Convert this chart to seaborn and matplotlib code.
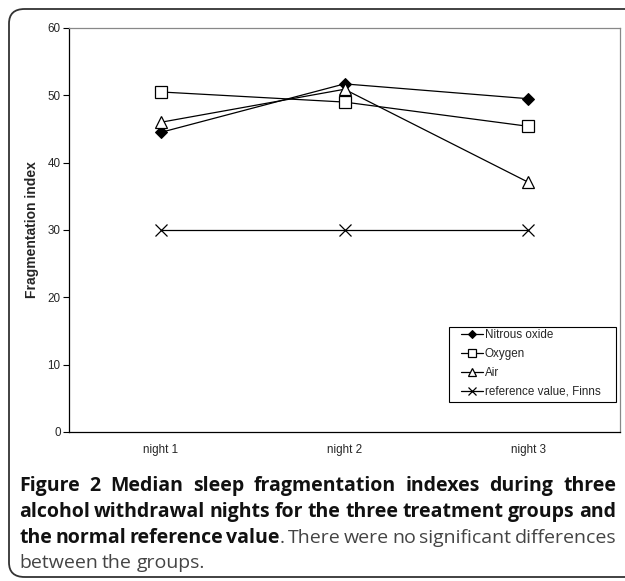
import pandas as pd
import matplotlib.pyplot as plt
import seaborn as sns
from matplotlib.patches import FancyBboxPatch, Rectangle

# Datos
noches = ["night 1", "night 2", "night 3"]
nitrous_oxide = [44.5, 51.7, 49.5]
oxygen = [50.5, 49.0, 45.4]
air = [46.0, 50.9, 37.1]
reference = [30.0, 30.0, 30.0]
series = ["Nitrous oxide", "Oxygen", "Air", "reference value, Finns"]

df = pd.DataFrame({
    "night": noches * 4,
    "value": nitrous_oxide + oxygen + air + reference,
    "group": sum([[s] * 3 for s in series], []),
})

sns.set_style("white")
plt.rcParams["font.family"] = ["Liberation Sans", "DejaVu Sans"]

fig = plt.figure(figsize=(6.25, 5.81), dpi=100)
ax = fig.add_axes([69 / 625, 149 / 581, 551 / 625, 404 / 581])

estilos = {
    "Nitrous oxide": dict(marker="D", markersize=6, mfc="black", mec="black"),
    "Oxygen": dict(marker="s", markersize=8, mfc="white", mec="black", mew=0.9),
    "Air": dict(marker="^", markersize=8, mfc="white", mec="black", mew=0.9),
    "reference value, Finns": dict(marker="x", markersize=8, mec="black", mew=0.9),
}
for s in series:
    sns.lineplot(data=df[df["group"] == s], x="night", y="value", ax=ax,
                 color="black", linewidth=0.9, label=s, **estilos[s])

ax.set_xlim(-0.5, 2.5)
ax.set_ylim(0, 60)
ax.set_yticks(range(0, 61, 10))
ax.set_xticks([0, 1, 2])
ax.set_xticklabels(noches)
ax.set_xticks([-0.5, 0.5, 1.5, 2.5], minor=True)
ax.tick_params(axis="x", which="major", length=0, labelsize=8.4, pad=9)
ax.tick_params(axis="x", which="minor", length=4, width=0.8, direction="out", color="black")
ax.tick_params(axis="y", length=4, width=0.8, direction="out", left=True, labelsize=8.4,
               color="black", pad=2)
ax.set_xlabel("")
ax.set_ylabel("Fragmentation index", fontsize=10, fontweight="bold", labelpad=6)

for lado in ["left", "bottom"]:
    ax.spines[lado].set_color("black")
    ax.spines[lado].set_linewidth(0.9)
for lado in ["top", "right"]:
    ax.spines[lado].set_color("#888888")
    ax.spines[lado].set_linewidth(0.9)

# Leyenda sin marco propio; el recuadro se dibuja aparte
leg = ax.legend(loc="upper left", bbox_to_anchor=(0.712, 0.255), borderaxespad=0,
                fontsize=8.4, frameon=False, handlelength=1.9,
                handletextpad=0.1, labelspacing=0.6, borderpad=0, markerscale=0.75)
ax.add_patch(Rectangle((0.6897, 0.0743), 0.3031, 0.1856, transform=ax.transAxes,
                       fill=False, edgecolor="black", linewidth=0.8, zorder=5))

# Marco redondeado de la figura
marco = FancyBboxPatch((9 / 625, 4 / 581), 640 / 625, 568 / 581,
                       boxstyle="round,pad=0,rounding_size=0.025",
                       transform=fig.transFigure, fill=False,
                       edgecolor="#333333", linewidth=1.3, clip_on=False)
fig.patches.append(marco)

# Pie de figura, justificado palabra por palabra
lineas = [
    [("Figure 2 Median sleep fragmentation indexes during three", "bold")],
    [("alcohol withdrawal nights for the three treatment groups and", "bold")],
    [("the normal reference value", "bold"), (". There were no significant differences", "normal")],
    [("between the groups.", "normal")],
]
x0, x1 = 19, 616
ys = [491, 517, 543, 568]
tam = 14
fig.canvas.draw()
rend = fig.canvas.get_renderer()
for n, (linea, y) in enumerate(zip(lineas, ys)):
    palabras = []
    for texto, peso in linea:
        partes = texto.split(" ")
        for i, p in enumerate(partes):
            if p == "":
                continue
            pegado = (i == 0 and palabras and texto.startswith("."))
            palabras.append([p, peso, pegado])
    objs = []
    for p, peso, pegado in palabras:
        color = "#111111" if peso == "bold" else "#444444"
        t = fig.text(0, 1 - y / 581, p, fontsize=tam, fontweight=peso,
                     family=["Open Sans", "DejaVu Sans"], color=color, va="baseline")
        objs.append(t)
    anchos = [t.get_window_extent(rend).width for t in objs]
    ancho_esp = 4.3
    huecos = [i for i in range(1, len(palabras)) if not palabras[i][2]]
    if n < len(lineas) - 1:
        ancho_esp = (x1 - x0 - sum(anchos)) / len(huecos)
    x = x0
    for i, t in enumerate(objs):
        if i > 0 and not palabras[i][2]:
            x += ancho_esp
        t.set_x(x / 625)
        x += anchos[i]

fig.savefig("out.png", dpi=100)
